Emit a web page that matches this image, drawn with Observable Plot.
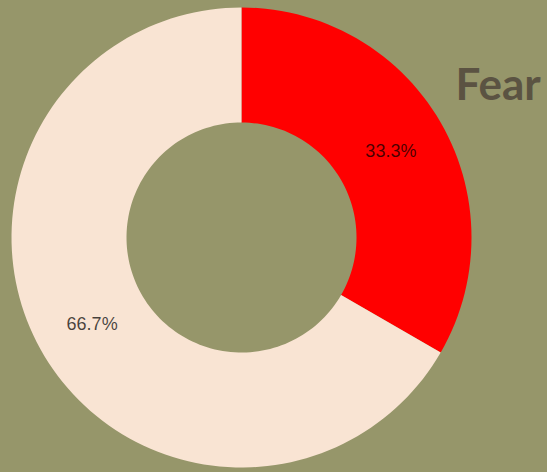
<!DOCTYPE html>
<html>
<head>
<meta charset="utf-8">
<script src="https://cdn.jsdelivr.net/npm/d3@7"></script>
<script src="https://cdn.jsdelivr.net/npm/@observablehq/plot@0.6"></script>
<style>
  html, body { margin: 0; padding: 0; background: #96966A; }
  #chart { width: 547px; height: 472px; overflow: hidden; }
</style>
</head>
<body>
<div id="chart"></div>
<script>
// Data
const title = "Fear";
const categories = ["Fear", "Not fear"];
const values = [1, 2];
const colors = ["#FF0000", "#F9E4D3"];

const innerRatio = 0.5;
const total = d3.sum(values);
const pie = d3.pie().sort(null).value(d => d.value);
const arcs = pie(categories.map((c, i) => ({category: c, value: values[i]})));

// Build slice outlines in unit coordinates (angle measured clockwise from 12 o'clock)
const steps = 180;
const outline = [];
for (const a of arcs) {
  const n = Math.max(2, Math.ceil(steps * (a.endAngle - a.startAngle) / (2 * Math.PI)));
  for (let k = 0; k <= n; k++) {
    const t = a.startAngle + (a.endAngle - a.startAngle) * k / n;
    outline.push({category: a.data.category, x: Math.sin(t), y: Math.cos(t)});
  }
  for (let k = n; k >= 0; k--) {
    const t = a.startAngle + (a.endAngle - a.startAngle) * k / n;
    outline.push({category: a.data.category, x: innerRatio * Math.sin(t), y: innerRatio * Math.cos(t)});
  }
}
const labelR = (1 + innerRatio) / 2;
const labels = arcs.map(a => {
  const m = (a.startAngle + a.endAngle) / 2;
  return {
    category: a.data.category,
    x: labelR * Math.sin(m),
    y: labelR * Math.cos(m),
    text: (a.data.value / total * 100).toFixed(1) + "%"
  };
});

const chart = Plot.plot({
  width: 547,
  height: 472,
  marginLeft: 11,
  marginRight: 76,
  marginTop: 7,
  marginBottom: 5,
  style: {background: "#96966A", overflow: "visible"},
  x: {domain: [-1, 1], axis: null},
  y: {domain: [-1, 1], axis: null},
  color: {domain: categories, range: colors},
  marks: [
    Plot.line(outline, {x: "x", y: "y", z: "category", fill: "category", stroke: "none", curve: "linear-closed"}),
    Plot.text(labels, {x: "x", y: "y", text: "text", fill: "black", fillOpacity: 0.72, fontSize: 18, fontFamily: "Liberation Sans, Arial, sans-serif"}),
    Plot.text([title], {frameAnchor: "top-right", dx: -16, dy: 78, textAnchor: "start", lineAnchor: "middle", fill: "#5B5342", fontSize: 44, fontWeight: "bold", fontFamily: "Lato, sans-serif"})
  ]
});
document.getElementById("chart").appendChild(chart);
</script>
</body>
</html>
